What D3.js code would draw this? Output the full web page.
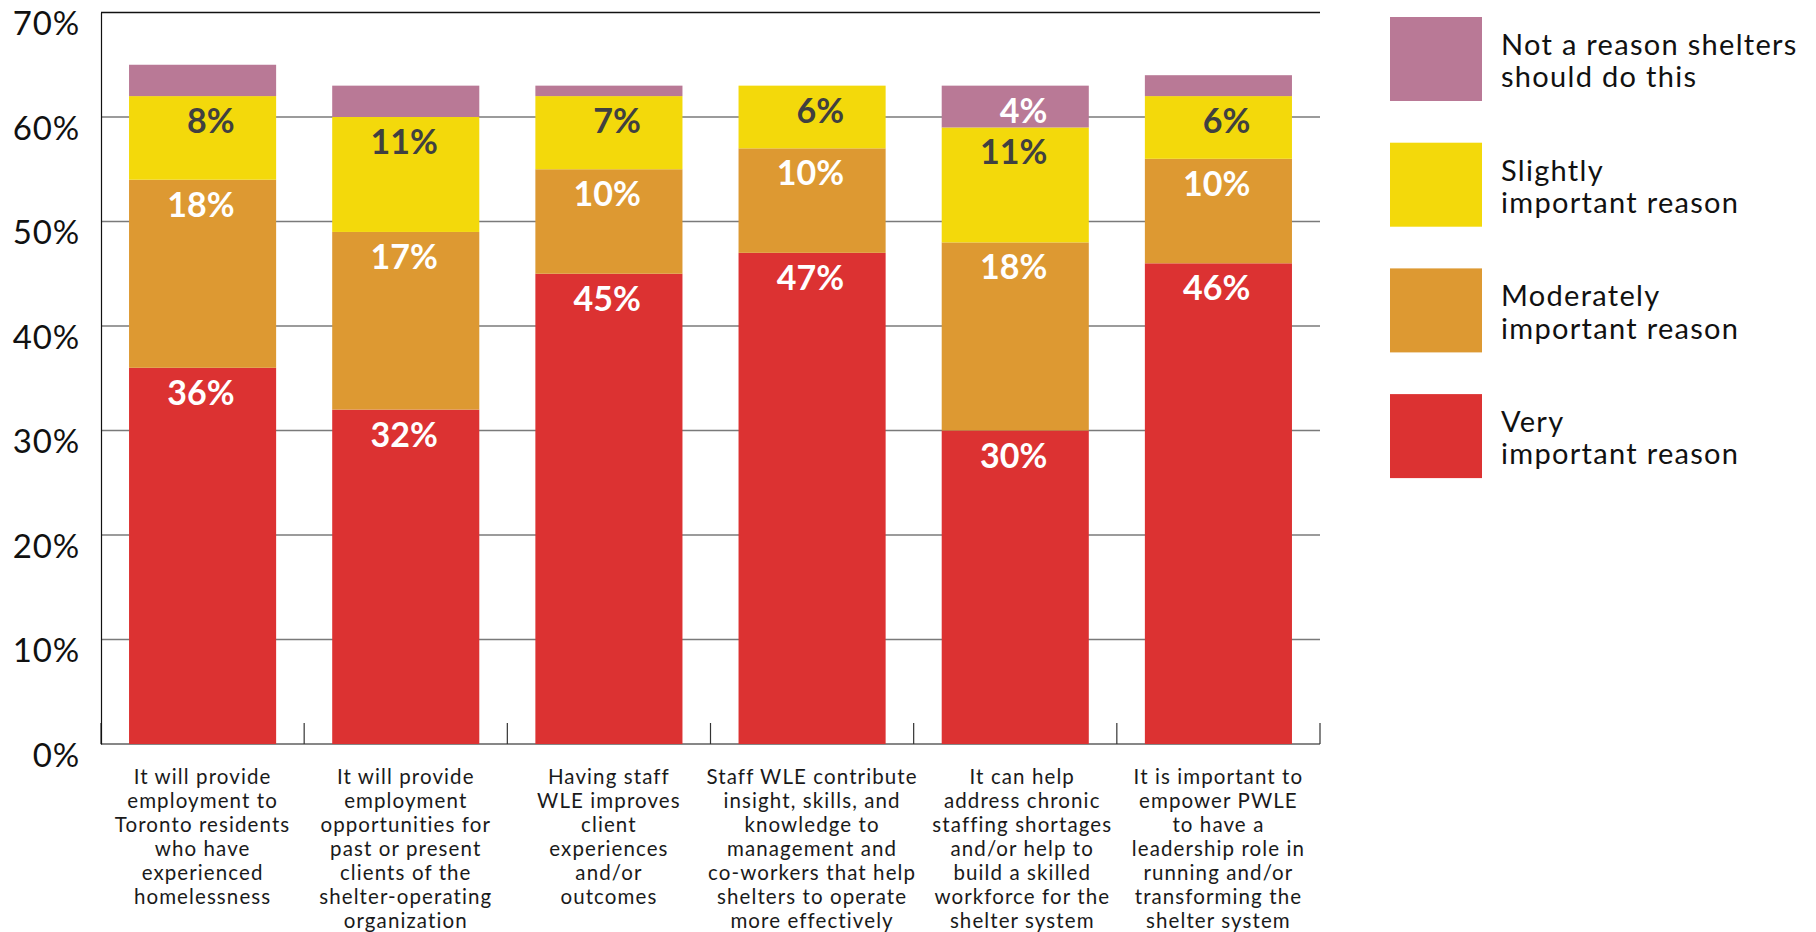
<!DOCTYPE html>
<html>
<head>
<meta charset="utf-8">
<script src="https://cdn.jsdelivr.net/npm/d3@7"></script>
<style>
  html, body { margin: 0; padding: 0; background: #fff; }
  svg { display: block; font-family: Lato, "Open Sans", sans-serif; }
</style>
</head>
<body>
<svg id="chart" width="1816" height="932"></svg>
<script>
// Reasons (x-axis categories), each split into lines for display
const categories = [
  ["It will provide", "employment to", "Toronto residents", "who have", "experienced", "homelessness"],
  ["It will provide", "employment", "opportunities for", "past or present", "clients of the", "shelter-operating", "organization"],
  ["Having staff", "WLE improves", "client", "experiences", "and/or", "outcomes"],
  ["Staff WLE contribute", "insight, skills, and", "knowledge to", "management and", "co-workers that help", "shelters to operate", "more effectively"],
  ["It can help", "address chronic", "staffing shortages", "and/or help to", "build a skilled", "workforce for the", "shelter system"],
  ["It is important to", "empower PWLE", "to have a", "leadership role in", "running and/or", "transforming the", "shelter system"]
];

// Share of respondents (%) for each rating, bottom to top of the stack
const veryImportant = [36, 32, 45, 47, 30, 46];
const moderatelyImportant = [18, 17, 10, 10, 18, 10];
const slightlyImportant = [8, 11, 7, 6, 11, 6];
const notAReason = [3, 3, 1, 0, 4, 2];

const seriesKeys = ["very", "moderate", "slight", "not"];
const seriesNames = {
  not: ["Not a reason shelters", "should do this"],
  slight: ["Slightly", "important reason"],
  moderate: ["Moderately", "important reason"],
  very: ["Very", "important reason"]
};
const seriesColors = { very: "#DC3232", moderate: "#DD9932", slight: "#F3D90B", not: "#B97996" };
const labelColors = { very: "#ffffff", moderate: "#ffffff", slight: "#404040", not: "#ffffff" };

const yTicks = [0, 10, 20, 30, 40, 50, 60, 70];

const rows = categories.map((c, i) => ({
  idx: i,
  very: veryImportant[i],
  moderate: moderatelyImportant[i],
  slight: slightlyImportant[i],
  not: notAReason[i]
}));

const svg = d3.select("#chart");
const plot = { left: 101, right: 1320, top: 12.5, bottom: 744 };
// small horizontal shift for the fifth category's text block
const categoryLabelShift = { 4: 7 };

const x = d3.scaleBand()
  .domain(rows.map(d => d.idx))
  .range([plot.left, plot.right])
  .paddingInner(0.276)
  .paddingOuter(0.138);

const y = d3.scaleLinear().domain([0, 70]).range([plot.bottom, plot.top]);

// Horizontal gridlines (10%–60%)
svg.append("g")
  .selectAll("line")
  .data(yTicks.filter(t => t > 0 && t < 70))
  .join("line")
  .attr("x1", plot.left).attr("x2", plot.right)
  .attr("y1", d => y(d)).attr("y2", d => y(d))
  .attr("stroke", "#7a7a7a").attr("stroke-width", 1.3);

// Top frame line at 70%
svg.append("line")
  .attr("x1", plot.left).attr("x2", plot.right)
  .attr("y1", y(70)).attr("y2", y(70))
  .attr("stroke", "#111").attr("stroke-width", 1.6);

// Baseline and category separators
const xAxis = svg.append("g")
  .attr("transform", `translate(0,${plot.bottom})`);
xAxis.append("line")
  .attr("x1", plot.left).attr("x2", plot.right)
  .attr("stroke", "#111").attr("stroke-width", 1.2);
const step = x.step();
const boundaries = d3.range(0, rows.length + 1).map(i => plot.left + i * step);
xAxis.selectAll("line.sep")
  .data(boundaries)
  .join("line")
  .attr("class", "sep")
  .attr("x1", d => d).attr("x2", d => d)
  .attr("y1", 0).attr("y2", -21)
  .attr("stroke", "#333").attr("stroke-width", 1.2);

// Y axis
const yAxis = svg.append("g")
  .attr("transform", `translate(${plot.left},0)`)
  .call(d3.axisLeft(y).tickValues(yTicks).tickFormat(d => d + "%").tickSize(0).tickPadding(21));
yAxis.select(".domain").attr("stroke", "#111").attr("stroke-width", 1.2);
yAxis.selectAll("text")
  .attr("dy", 22)
  .attr("fill", "#111")
  .style("font-family", "Lato, sans-serif")
  .style("font-size", "33px")
  .style("letter-spacing", "0.8px");

// Stacked bars
const stacked = d3.stack().keys(seriesKeys)(rows);

const layers = svg.append("g")
  .selectAll("g")
  .data(stacked)
  .join("g")
  .attr("fill", s => seriesColors[s.key]);

layers.selectAll("rect")
  .data(s => s.map(p => ({ key: s.key, p })))
  .join("rect")
  .attr("x", d => x(d.p.data.idx))
  .attr("width", x.bandwidth())
  .attr("y", d => y(d.p[1]))
  .attr("height", d => y(d.p[0]) - y(d.p[1]));

// Value labels near the top of each segment
svg.append("g")
  .selectAll("g")
  .data(stacked)
  .join("g")
  .selectAll("text")
  .data(s => s.map(p => ({ key: s.key, p, v: p.data[s.key] })).filter(d => d.v >= 4))
  .join("text")
  .attr("x", d => x(d.p.data.idx) + x.bandwidth() / 2 + 32)
  .attr("y", d => y(d.p[1]) + 37)
  .attr("text-anchor", "end")
  .attr("fill", d => labelColors[d.key])
  .style("font-size", "34px")
  .style("font-weight", 700)
  .text(d => d.v + "%");

// Category labels under the axis
const labelCx = i => x(i) + x.bandwidth() / 2 + (categoryLabelShift[i] || 0);
svg.append("g")
  .selectAll("text")
  .data(rows)
  .join("text")
  .attr("x", d => labelCx(d.idx))
  .attr("y", 784)
  .attr("text-anchor", "middle")
  .attr("fill", "#1a1a1a")
  .style("font-size", "20.5px")
  .style("letter-spacing", "1.1px")
  .selectAll("tspan")
  .data(d => categories[d.idx].map((line, k) => ({ line, k, cx: labelCx(d.idx) })))
  .join("tspan")
  .attr("x", t => t.cx)
  .attr("dy", t => t.k === 0 ? 0 : 24)
  .text(t => t.line);

// Legend
const legendOrder = ["not", "slight", "moderate", "very"];
const legend = svg.append("g");
const items = legend.selectAll("g")
  .data(legendOrder)
  .join("g")
  .attr("transform", (d, i) => `translate(1390,${17 + i * 125.7})`);
items.append("rect")
  .attr("width", 92).attr("height", 84)
  .attr("fill", d => seriesColors[d]);
items.append("text")
  .attr("fill", "#111")
  .style("font-size", "29px")
  .style("letter-spacing", "1.3px")
  .selectAll("tspan")
  .data(d => seriesNames[d])
  .join("tspan")
  .attr("x", 111)
  .attr("y", (t, k) => 38 + k * 32.3)
  .text(t => t);
</script>
</body>
</html>
